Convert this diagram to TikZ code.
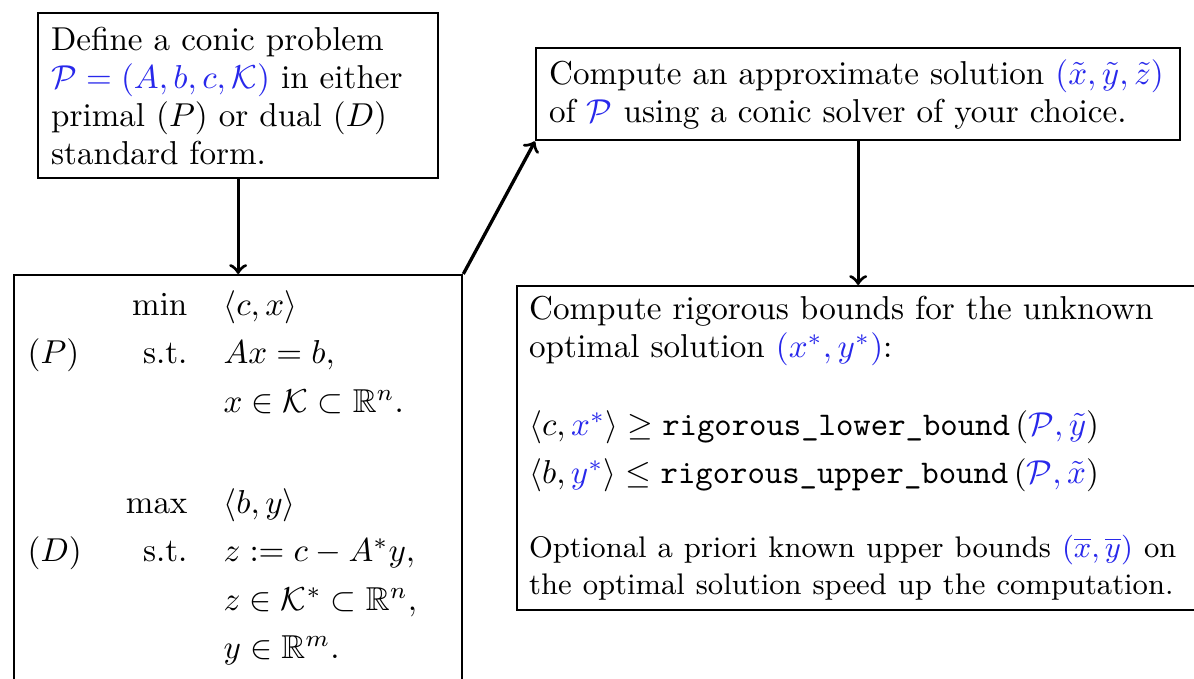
\documentclass[tikz,border=0pt]{standalone}
\usepackage{amsmath,amssymb}
\definecolor{cb}{RGB}{40,40,235}
\newcommand\px{0.302pt}
\setlength\parindent{0pt}
\begin{document}
\begin{tikzpicture}[x=0.302pt,y=-0.302pt,
  box/.style={draw, line width=0.7pt, inner sep=0pt, anchor=north west,
    font=\fontsize{10pt}{11.5pt}\selectfont},
  arr/.style={->, line width=1pt}]
\clip (0,0) rectangle (1194,679);
% boxes
\node[box, minimum width=400*\px, minimum height=165*\px, text width=374*\px,
  inner xsep=13*\px, align=left] (b1) at (37,12)
  {Define a conic problem\\
   \textcolor{cb}{$\mathcal{P}=(A,b,c,\mathcal{K})$} in either\\
   primal $(P)$ or dual $(D)$\\
   standard form.};
\node[box, minimum width=448*\px, minimum height=500*\px] (b2) at (13,274) {};
\node[anchor=north west, inner sep=0pt, font=\fontsize{10pt}{11.5pt}\selectfont] (lp) at (27,281)
  {\renewcommand\arraystretch{1.27}%
   $\begin{array}{@{}l@{\hspace{13.3pt}}r@{\hspace{10.9pt}}l@{}}
     & \min & \langle c, x\rangle \\
   (P) & \text{s.t.} & Ax = b, \\
     & & x \in \mathcal{K} \subset \mathbb{R}^n. \\[16pt]
     & \max & \langle b, y\rangle \\
   (D) & \text{s.t.} & z := c - A^* y, \\
     & & z \in \mathcal{K}^* \subset \mathbb{R}^n, \\
     & & y \in \mathbb{R}^m.
   \end{array}$};
\node[box, minimum width=644*\px, minimum height=92*\px, text width=618*\px,
  inner xsep=13*\px, align=left] (b3) at (535,47)
  {Compute an approximate solution \textcolor{cb}{$(\tilde{x},\tilde{y},\tilde{z})$}\\
   of \textcolor{cb}{$\mathcal{P}$} using a conic solver of your choice.};
\node[box, minimum width=720*\px, minimum height=324*\px, text width=696*\px,
  inner xsep=12*\px, align=left] (b4) at (516,285)
  {Compute rigorous bounds for the unknown\\
   optimal solution \textcolor{cb}{$(x^*,y^*)$}:\par\vspace{12pt}
   $\langle c,\textcolor{cb}{x^*}\rangle \ge \texttt{rigorous\_lower\_bound}\,(\textcolor{cb}{\mathcal{P},\tilde{y}})$\par\vspace{3pt}
   $\langle b,\textcolor{cb}{y^*}\rangle \le \texttt{rigorous\_upper\_bound}\,(\textcolor{cb}{\mathcal{P},\tilde{x}})$\par\vspace{11pt}
   {\fontsize{9pt}{11.3pt}\selectfont Optional a priori known upper bounds \textcolor{cb}{$(\overline{x},\overline{y})$} on\\
   the optimal solution speed up the computation.\par}};
% connectors
\draw[arr] (b1.south -| b2.north) -- (b2.north);
\draw[arr] (b2.north east) -- (b3.south west);
\draw[arr] (b3.south) -- (b3.south |- b4.north);
\end{tikzpicture}
\end{document}
